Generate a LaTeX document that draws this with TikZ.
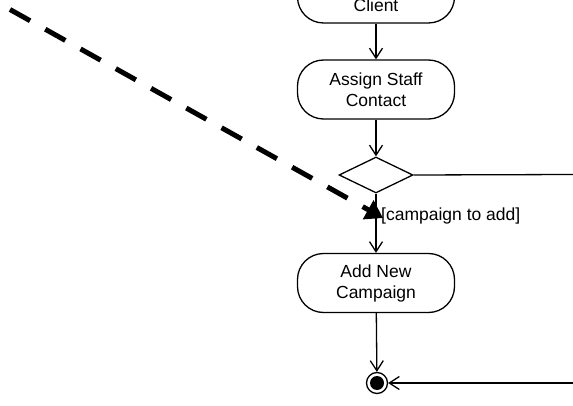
\documentclass[tikz,border=0pt]{standalone}
\usepackage{fontspec}
\setmainfont{Liberation Sans}
\usetikzlibrary{arrows.meta,shapes.geometric}
\begin{document}
\begin{tikzpicture}[x=1pt,y=-1pt,
  txt/.style={font=\fontsize{17.5}{21}\selectfont},
  act/.style={draw,line width=1.3pt,rounded corners=26pt,minimum width=157pt,
    minimum height=59pt,align=center,txt,inner sep=0pt},
  flow/.style={line width=1.3pt,-{Straight Barb[length=10pt,width=13pt]}},
  plain/.style={line width=1.3pt},
  dashedflow/.style={line width=5pt,dash pattern=on 23pt off 17.4pt,
    -{Triangle[length=17pt,width=21pt]}}]
\clip (0,0) rectangle (573,406);
\node[act] (client) at (376,-6.5) {\strut\\Client};
\node[act] (assign) at (376,89.5) {Assign Staff\\Contact};
\node[diamond,draw,line width=1.3pt,minimum width=74pt,minimum height=36pt,
  inner sep=0pt,aspect=2.05] (dec) at (376,175) {};
\node[act] (addc) at (376,283) {Add New\\Campaign};
\node[circle,draw,line width=1.3pt,minimum size=21pt,inner sep=0pt] (final) at (377,383) {};
\fill (final.center) circle (7pt);
\node[txt,anchor=west,inner sep=0pt] (guard) at (381,216) {[campaign to add]};
\coordinate (r1) at (574,174.5);
\coordinate (r2) at (574,383);
\coordinate (ds) at (10,9.5);
\coordinate (dt) at (383,218);
\draw[flow] (client) -- (assign);
\draw[flow] (assign) -- (dec);
\draw[flow] (dec) -- (addc);
\draw[plain] (dec.east) -- (r1);
\draw[flow] (addc) -- (final);
\draw[flow] (r2) -- (final);
\draw[dashedflow] (ds) -- (dt);
\end{tikzpicture}
\end{document}
